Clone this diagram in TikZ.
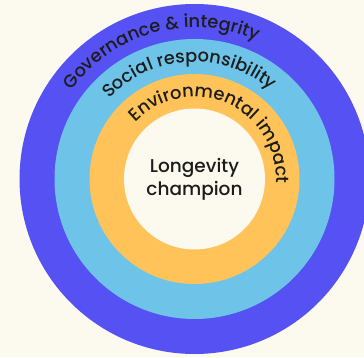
\documentclass[tikz,border=0pt]{standalone}
\usepackage{fontspec}
\setmainfont{Poppins}[UprightFont=* Medium]
\usetikzlibrary{decorations.text, positioning, calc}
\definecolor{cream}{HTML}{FCF9EF}
\definecolor{violet}{HTML}{5551F3}
\definecolor{sky}{HTML}{6EC4E8}
\definecolor{amber}{HTML}{FFC35A}
\definecolor{ink}{HTML}{1C1C1C}
\newcommand{\ringfont}{\fontsize{17.8pt}{21pt}\selectfont}
\tikzset{
    ring/.style={
        circle,
        draw=none,
        inner sep=0pt,
    },
    ringlabel/.style={
        decorate,
        decoration={text along path, text align=center, text color=ink},
    },
}

\begin{document}
\begin{tikzpicture}[x=1pt,y=1pt]
          \useasboundingbox (0,0) rectangle (364,357);
          \clip (0,0) rectangle (364,357);
          \fill[cream] (0,0) rectangle (364,357);

          \coordinate (mid) at (194.5,178);
          \node [ring, fill=violet, minimum size=350pt] (governance) at (mid) {};
          \node [ring, fill=sky, minimum size=280pt] (social) at (mid) {};
          \node [ring, fill=amber, minimum size=210pt] (environment) at (mid) {};
          \node [ring, fill=cream, minimum size=141pt] (core) at (mid) {};

          \node [align=center, text=ink, font=\fontsize{18.5pt}{23pt}\selectfont] (champion) at (core.center) {Longevity\\champion};

          % labels along the rings
          \path[ringlabel, decoration={text={|\ringfont|Governance {\&} integrity}}]
            ($(mid)+(185:151.5)$) arc[start angle=185, end angle=25, radius=151.5];
          \path[ringlabel, decoration={text={|\ringfont|Social responsibility}}]
            ($(mid)+(173:117)$) arc[start angle=173, end angle=13, radius=117];
          \path[ringlabel, decoration={text={|\ringfont|Environmental impact}}]
            ($(mid)+(156.5:82)$) arc[start angle=156.5, end angle=-23.5, radius=82];
\end{tikzpicture}
\end{document}
